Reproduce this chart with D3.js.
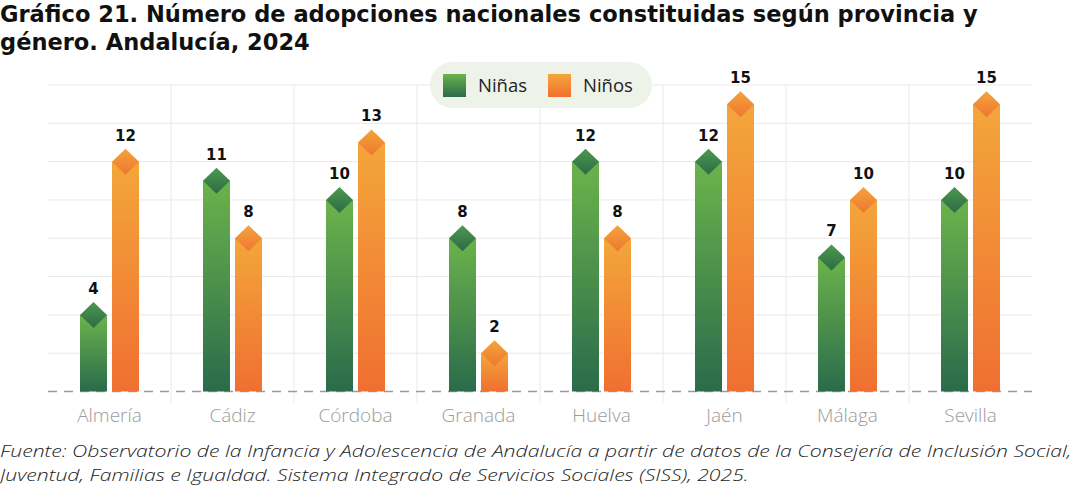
<!DOCTYPE html>
<html>
<head>
<meta charset="utf-8">
<script src="https://cdn.jsdelivr.net/npm/d3@7"></script>
<style>
  body { margin: 0; background: #fff; }
  svg { display: block; }
</style>
</head>
<body>
<div id="chart"></div>
<script>
// data
var provincias = ["Almería", "Cádiz", "Córdoba", "Granada", "Huelva", "Jaén", "Málaga", "Sevilla"];
var ninas = [4, 11, 10, 8, 12, 12, 7, 10];
var ninos = [12, 8, 13, 2, 8, 15, 10, 15];
var series = ["Niñas", "Niños"];
var titleLines = ["Gráfico 21. Número de adopciones nacionales constituidas según provincia y",
                  "género. Andalucía, 2024"];
var sourceLines = ["Fuente: Observatorio de la Infancia y Adolescencia de Andalucía a partir de datos de la Consejería de Inclusión Social,",
                   "Juventud, Familias e Igualdad. Sistema Integrado de Servicios Sociales (SISS), 2025."];

var width = 1080, height = 488;
var margin = { top: 85, right: 48, bottom: 96, left: 48 };

var svg = d3.select("#chart").append("svg")
    .attr("width", width)
    .attr("height", height);

var defs = svg.append("defs");
function grad(id, c1, c2) {
  var g = defs.append("linearGradient").attr("id", id)
    .attr("x1", 0).attr("y1", 0).attr("x2", 0).attr("y2", 1);
  g.append("stop").attr("offset", "0%").attr("stop-color", c1);
  g.append("stop").attr("offset", "100%").attr("stop-color", c2);
}
grad("gGreen", "#6cb34b", "#2a6b4b");
grad("gOrange", "#f3a63a", "#f06f31");
grad("dGreen", "#4c9a4e", "#2d6a47");
grad("dOrange", "#f4a53a", "#ee7631");

var x = d3.scaleBand().domain(provincias).range([margin.left, width - margin.right]).padding(0);
var y = d3.scaleLinear().domain([0, 16]).range([391.5, margin.top]);

// horizontal grid
svg.append("g").selectAll("line")
  .data(y.ticks(8).filter(function(d){ return d > 0; }))
  .join("line")
  .attr("x1", margin.left).attr("x2", width - margin.right)
  .attr("y1", function(d){ return y(d); }).attr("y2", function(d){ return y(d); })
  .attr("stroke", "#e9e9e9").attr("stroke-width", 1);

// vertical separators between provinces
svg.append("g").selectAll("line")
  .data(provincias.slice(1))
  .join("line")
  .attr("x1", function(d){ return x(d); }).attr("x2", function(d){ return x(d); })
  .attr("y1", y(16)).attr("y2", 403)
  .attr("stroke", "#e9e9e9").attr("stroke-width", 1);

// baseline dashed
svg.append("line")
  .attr("x1", margin.left).attr("x2", width - margin.right)
  .attr("y1", y(0)).attr("y2", y(0))
  .attr("stroke", "#9a9a9a").attr("stroke-width", 1.5)
  .attr("stroke-dasharray", "9,7");

var barW = 27, gap = 5, dh = 13;
var rows = [];
provincias.forEach(function(p, i) {
  rows.push({ p: p, s: 0, v: ninas[i] });
  rows.push({ p: p, s: 1, v: ninos[i] });
});
function bx(d) {
  var c = x(d.p) + x.bandwidth() / 2;
  return d.s === 0 ? c - gap / 2 - barW : c + gap / 2;
}

var bars = svg.append("g").selectAll("g").data(rows).join("g");

bars.append("rect")
  .attr("x", bx)
  .attr("y", function(d){ return y(d.v); })
  .attr("width", barW)
  .attr("height", function(d){ return y(0) - y(d.v); })
  .attr("fill", function(d){ return d.s === 0 ? "url(#gGreen)" : "url(#gOrange)"; });

bars.append("polygon")
  .attr("points", function(d) {
    var x0 = bx(d), yv = y(d.v);
    return [[x0 + barW / 2, yv - dh], [x0 + barW, yv], [x0 + barW / 2, yv + dh], [x0, yv]].join(" ");
  })
  .attr("fill", function(d){ return d.s === 0 ? "url(#dGreen)" : "url(#dOrange)"; });

bars.append("text")
  .attr("x", function(d){ return bx(d) + barW / 2; })
  .attr("y", function(d){ return y(d.v) - 21; })
  .attr("text-anchor", "middle")
  .attr("font-family", "'DejaVu Sans', sans-serif")
  .attr("font-weight", "bold")
  .attr("font-size", 15)
  .attr("fill", "#111")
  .text(function(d){ return d.v; });

// x axis labels
svg.append("g")
  .attr("transform", "translate(0,422)")
  .call(d3.axisBottom(x).tickSize(0).tickPadding(0))
  .call(function(g){ g.select(".domain").remove(); })
  .selectAll("text")
  .attr("dy", 0)
  .attr("font-family", "'Open Sans', 'Noto Sans', sans-serif")
  .attr("font-weight", 300)
  .attr("font-size", 19)
  .attr("fill", "#9b9b9b");

// legend
var leg = svg.append("g");
leg.append("rect")
  .attr("x", 430).attr("y", 62).attr("width", 222).attr("height", 46)
  .attr("rx", 23).attr("fill", "#eef3ea");
var legX = [443, 548];
series.forEach(function(s, i) {
  leg.append("rect")
    .attr("x", legX[i]).attr("y", 74).attr("width", 23).attr("height", 23)
    .attr("fill", i === 0 ? "url(#gGreen)" : "url(#gOrange)");
  leg.append("text")
    .attr("x", legX[i] + 35).attr("y", 92)
    .attr("font-family", "'Open Sans', 'Noto Sans', sans-serif")
    .attr("font-size", 18.5)
    .attr("fill", "#222")
    .text(s);
});

// squeeze a text horizontally to a target width, keeping its height
function squeeze(sel, target) {
  var w = sel.node().getComputedTextLength();
  var k = target / w;
  sel.attr("transform", "scale(" + k.toFixed(4) + ",1)");
  return k;
}

var titleFont = 22.5;
var t1 = svg.append("text").attr("x", 0).attr("y", 22)
  .attr("font-family", "'DejaVu Sans', sans-serif").attr("font-weight", "bold")
  .attr("font-size", titleFont).attr("fill", "#111").text(titleLines[0]);
var k = squeeze(t1, 978);
svg.append("text").attr("x", 0).attr("y", 50)
  .attr("transform", "scale(" + k.toFixed(4) + ",1)")
  .attr("font-family", "'DejaVu Sans', sans-serif").attr("font-weight", "bold")
  .attr("font-size", titleFont).attr("fill", "#111").text(titleLines[1]);

var srcFont = 17;
var s1 = svg.append("text").attr("x", 0).attr("y", 457)
  .attr("font-family", "'Open Sans', 'Noto Sans', sans-serif").attr("font-style", "italic")
  .attr("font-weight", 300).attr("font-size", srcFont).attr("fill", "#222").text(sourceLines[0]);
var ks = squeeze(s1, 1072);
svg.append("text").attr("x", 0).attr("y", 481)
  .attr("transform", "scale(" + ks.toFixed(4) + ",1)")
  .attr("font-family", "'Open Sans', 'Noto Sans', sans-serif").attr("font-style", "italic")
  .attr("font-weight", 300).attr("font-size", srcFont).attr("fill", "#222").text(sourceLines[1]);
</script>
</body>
</html>
